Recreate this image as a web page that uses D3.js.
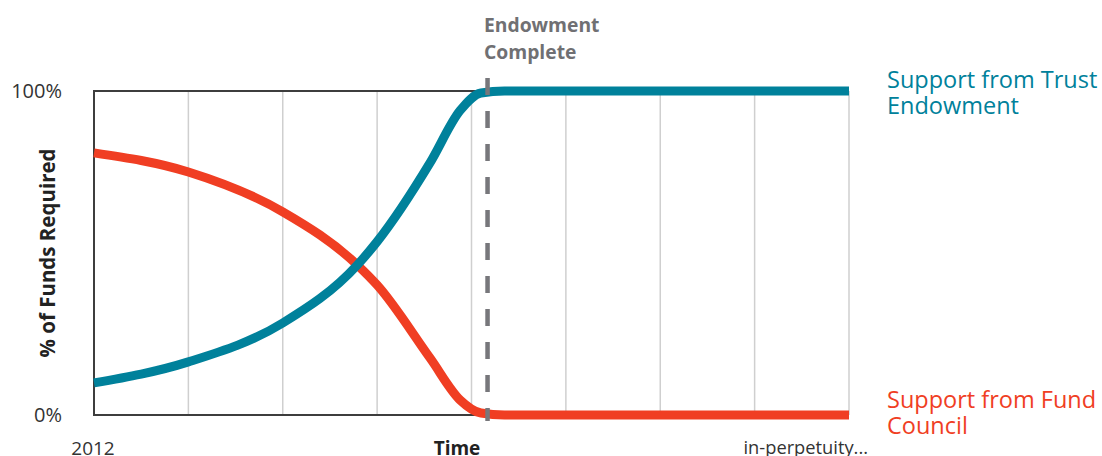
<!doctype html>
<html lang="en">
  <head>
    <meta charset="utf-8">
    <title>Endowment vs Fund Council</title>
    <style>
      body { margin: 0; background: #fff; }
      svg text { font-family: "Open Sans", "Liberation Sans", sans-serif; }
    </style>
  </head>
  <body>
    <div id="chart"></div>

    <script src="https://cdn.jsdelivr.net/npm/d3@7"></script>
    <script>
      // time steps (grid units), 0 = 2012, 8 = in-perpetuity
      const steps = [0, 1, 2, 2.79, 3, 3.56, 3.88, 4.1, 4.35, 5, 8];
      const trust = [9.9, 16.4, 28.4, 46.3, 53.5, 77.8, 94, 99.4, 100, 100, 100];
      const council = [80.9, 75, 62.7, 46.3, 40.1, 17.6, 4.6, 0.6, 0, 0, 0];
      const gridSteps = [1, 2, 3, 4, 5, 6, 7, 8];
      const yTicks = [0, 100];
      const endowmentStep = 4.17;

      const width = 1102, height = 456;
      const plotL = 94, plotR = 849, plotT = 91, plotB = 415;

      const svg = d3.select("#chart").append("svg")
        .attr("width", width)
        .attr("height", height);

      const x = d3.scaleLinear().domain([0, 8]).range([plotL, plotR]);
      const y = d3.scaleLinear().domain([0, 100]).range([plotB, plotT]);

      // vertical gridlines
      svg.append("g").selectAll("line")
        .data(gridSteps)
        .enter().append("line")
        .attr("x1", d => x(d)).attr("x2", d => x(d))
        .attr("y1", plotT).attr("y2", plotB)
        .attr("stroke", "#cfcfcf")
        .attr("stroke-width", 1.5);

      // frame: left, top, bottom
      const frame = svg.append("g").attr("stroke", "#3d3d3d").attr("stroke-width", 2);
      frame.append("line").attr("x1", plotL).attr("x2", plotL).attr("y1", plotT - 1).attr("y2", plotB + 1);
      frame.append("line").attr("x1", plotL).attr("x2", plotR).attr("y1", plotT).attr("y2", plotT);
      frame.append("line").attr("x1", plotL).attr("x2", plotR).attr("y1", plotB).attr("y2", plotB);

      // y tick labels
      svg.append("g").selectAll("text")
        .data(yTicks)
        .enter().append("text")
        .attr("x", 62)
        .attr("y", d => y(d) + 7)
        .attr("text-anchor", "end")
        .attr("font-size", 20)
        .attr("fill", "#333")
        .text(d => d + "%");

      // y axis title
      svg.append("text")
        .attr("transform", "translate(55," + ((plotT + plotB) / 2) + ") rotate(-90)")
        .attr("text-anchor", "middle")
        .attr("font-family", "Liberation Sans")
        .attr("font-weight", "bold")
        .attr("font-size", 20.5)
        .attr("fill", "#222")
        .text("% of Funds Required");

      // x labels
      svg.append("text")
        .attr("x", 93).attr("y", 455)
        .attr("text-anchor", "middle")
        .attr("font-size", 19)
        .attr("fill", "#333")
        .text("2012");
      svg.append("text")
        .attr("x", 457).attr("y", 455)
        .attr("text-anchor", "middle")
        .attr("font-size", 19)
        .attr("font-weight", "bold")
        .attr("fill", "#222")
        .text("Time");
      svg.append("text")
        .attr("x", 868).attr("y", 454)
        .attr("text-anchor", "end")
        .attr("font-size", 18.3)
        .attr("fill", "#333")
        .text("in-perpetuity...");

      const line = d3.line()
        .x((d, i) => x(steps[i]))
        .y(d => y(d))
        .curve(d3.curveMonotoneX);

      svg.append("path")
        .attr("d", line(council))
        .attr("fill", "none")
        .attr("stroke", "#f03e23")
        .attr("stroke-width", 9);

      svg.append("path")
        .attr("d", line(trust))
        .attr("fill", "none")
        .attr("stroke", "#00819b")
        .attr("stroke-width", 9);

      // endowment complete marker
      svg.append("line")
        .attr("x1", x(endowmentStep)).attr("x2", x(endowmentStep))
        .attr("y1", 78).attr("y2", 421)
        .attr("stroke", "#77777b")
        .attr("stroke-width", 4.5)
        .attr("stroke-dasharray", "17,16");

      svg.append("text")
        .attr("x", 484).attr("y", 32)
        .attr("font-weight", "bold")
        .attr("font-size", 19.3)
        .attr("fill", "#707073")
        .selectAll("tspan")
        .data(["Endowment", "Complete"])
        .enter().append("tspan")
        .attr("x", 484)
        .attr("dy", (d, i) => i ? 27 : 0)
        .text(d => d);

      // series labels
      const labels = [
        { lines: ["Support from Trust", "Endowment"], y: 88, color: "#00819b" },
        { lines: ["Support from Fund", "Council"], y: 408, color: "#f03e23" }
      ];
      labels.forEach(l => {
        svg.append("text")
          .attr("x", 887).attr("y", l.y)
          .attr("font-family", "Liberation Sans")
          .attr("font-size", 23.5)
          .attr("fill", l.color)
          .selectAll("tspan")
          .data(l.lines)
          .enter().append("tspan")
          .attr("x", 887)
          .attr("dy", (d, i) => i ? 26 : 0)
          .text(d => d);
      });
    </script>
  </body>
</html>
